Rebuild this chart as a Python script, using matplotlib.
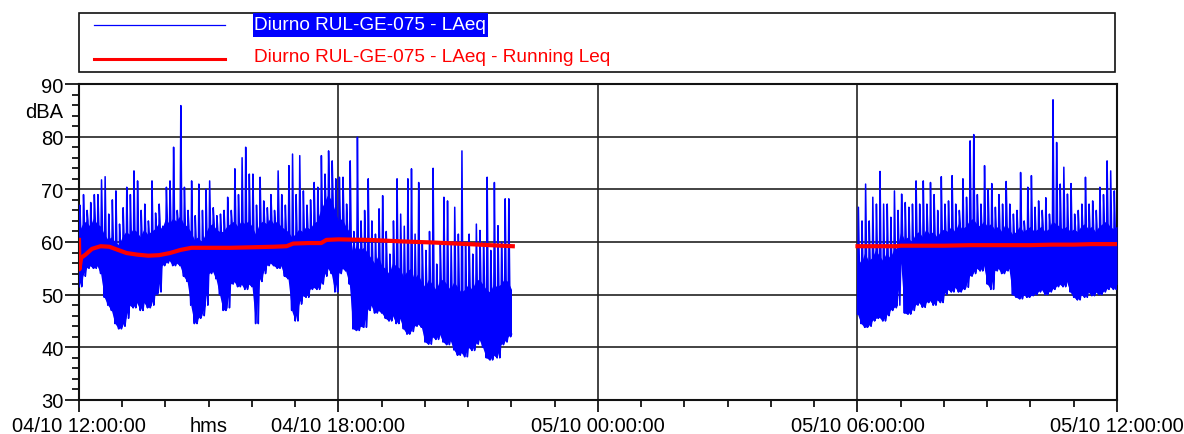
import numpy as np
import matplotlib
matplotlib.use("Agg")
import matplotlib.pyplot as plt
from matplotlib.lines import Line2D
from matplotlib.patches import Rectangle
from matplotlib.ticker import MultipleLocator

plt.rcParams['font.family'] = ['Liberation Sans', 'DejaVu Sans']

# LAeq, 5-minute envelopes (hours after 04/10 12:00)
step = 1 / 12
laeq_low_1 = [51.5, 53.5, 55.0, 55.5, 55.0, 55.5, 54.0, 49.5, 48.0, 47.0, 44.5, 43.5,
              44.0, 45.5, 48.0, 47.5, 48.5, 47.0, 48.5, 47.5, 48.0, 50.0, 50.5, 55.5,
              56.0, 56.5, 55.5, 56.0, 55.5, 53.5, 52.5, 48.0, 44.5, 45.5, 46.0, 48.0,
              54.0, 54.5, 53.0, 50.0, 47.0, 47.5, 52.0, 52.5, 51.5, 52.0, 51.0, 52.0,
              51.5, 44.5, 52.5, 54.0, 55.5, 56.0, 55.5, 55.0, 55.5, 53.5, 53.0, 47.0,
              45.0, 48.2, 49.8, 49.5, 51.0, 51.4, 51.0, 52.0, 53.5, 55.0, 54.0, 50.5,
              54.0, 55.0, 54.5, 52.0, 43.5, 43.2, 44.0, 43.8, 47.0, 48.0, 46.5, 47.0,
              46.5, 45.5, 45.0, 46.0, 44.5, 45.5, 43.5, 42.5, 43.0, 44.0, 44.4, 43.8,
              41.0, 40.6, 42.0, 41.5, 42.5, 41.0, 40.5, 41.3, 39.5, 38.5, 39.0, 38.2,
              40.0, 39.4, 40.6, 41.5, 40.0, 38.0, 37.6, 38.5, 38.0, 40.5, 41.0, 42.0,
              42.5]
laeq_mid_1 = [62.0, 63.5, 64.0, 63.0, 64.5, 63.5, 63.0, 61.5, 60.5, 61.0, 60.0, 59.5,
              61.0, 62.0, 61.5, 62.5, 62.0, 61.0, 62.5, 61.5, 62.0, 62.5, 63.5, 62.5,
              64.5, 63.5, 64.5, 64.0, 65.0, 63.5, 63.0, 62.0, 60.5, 61.0, 60.0, 61.5,
              63.0, 63.5, 62.5, 62.0, 62.0, 63.0, 63.5, 64.0, 63.0, 64.0, 63.5, 64.0,
              63.0, 61.5, 63.5, 64.0, 63.5, 64.5, 63.5, 64.0, 63.0, 62.5, 62.0, 61.0,
              61.5, 62.5, 62.0, 63.0, 62.5, 63.5, 64.0, 66.0, 67.5, 69.0, 68.0, 66.0,
              64.0, 64.5, 63.0, 62.0, 58.0, 59.5, 58.5, 59.0, 58.0, 57.0, 56.0, 57.5,
              55.5, 55.0, 54.0, 56.0, 55.5, 55.0, 53.5, 54.5, 55.0, 53.0, 54.0, 52.5,
              51.5, 53.0, 52.0, 51.0, 52.5, 53.0, 52.0, 51.0, 52.5, 51.5, 50.5, 51.0,
              52.0, 51.0, 52.5, 53.0, 52.0, 51.0, 50.5, 52.0, 51.5, 52.0, 53.0, 52.5,
              51.0]
laeq_high_1 = [67.0, 69.0, 66.0, 67.5, 69.0, 69.0, 71.8, 72.4, 65.3, 68.0, 69.7, 63.4,
               66.5, 70.4, 69.0, 73.5, 71.6, 66.0, 67.2, 64.0, 71.6, 65.5, 67.2, 63.0,
               70.4, 71.6, 78.0, 66.0, 85.9, 70.4, 66.0, 71.6, 65.0, 71.0, 66.0, 70.0,
               71.6, 66.5, 65.0, 65.3, 66.0, 68.5, 66.0, 73.9, 69.0, 76.0, 78.0, 72.9,
               72.9, 67.0, 72.3, 67.8, 66.5, 69.0, 66.0, 73.5, 69.0, 67.0, 74.5, 76.7,
               69.0, 76.4, 69.7, 67.0, 68.0, 71.3, 70.4, 76.4, 72.9, 77.3, 75.4, 72.0,
               72.3, 72.3, 67.2, 75.4, 62.0, 79.9, 64.0, 66.0, 72.0, 64.0, 61.5, 66.3,
               68.8, 62.0, 57.7, 64.0, 72.0, 65.3, 63.0, 72.0, 73.9, 61.5, 71.3, 60.0,
               58.4, 62.0, 74.0, 55.8, 60.0, 68.5, 67.8, 60.0, 66.6, 61.5, 77.3, 60.0,
               61.5, 57.7, 63.4, 62.2, 60.0, 72.3, 58.4, 71.3, 63.1, 60.0, 68.2, 68.2,
               55.2]
laeq_low_2 = [46.3, 44.5, 43.8, 44.0, 45.0, 45.5, 45.7, 45.0, 46.0, 47.0, 47.5, 48.0,
              56.0, 46.5, 46.3, 47.0, 48.0, 48.5, 47.6, 48.5, 48.9, 48.0, 49.0, 48.5,
              50.0, 51.0, 50.5, 51.4, 50.5, 51.0, 51.4, 53.5, 54.0, 55.0, 54.5, 55.5,
              52.0, 51.0, 54.5, 55.0, 54.0, 54.5, 55.0, 50.0, 49.5, 49.2, 50.0, 49.5,
              49.8, 50.0, 50.5, 51.0, 50.0, 50.5, 51.0, 51.5, 52.0, 51.5, 52.5, 50.5,
              49.5, 49.0, 50.0, 49.5, 50.5, 49.8, 50.5, 50.0, 50.5, 51.0, 51.5, 51.0,
              52.0]
laeq_mid_2 = [57.0, 56.0, 58.0, 56.5, 57.0, 58.5, 57.5, 56.5, 58.0, 57.0, 58.5, 59.0,
              62.0, 60.5, 61.0, 60.0, 61.5, 62.0, 61.0, 62.5, 61.5, 62.0, 61.0, 62.0,
              62.5, 62.0, 63.0, 62.0, 63.5, 62.5, 63.0, 64.0, 64.5, 63.5, 63.0, 64.0,
              63.0, 63.5, 62.5, 63.0, 62.0, 63.5, 62.5, 61.5, 62.0, 63.0, 62.0, 62.5,
              63.0, 62.0, 62.5, 63.0, 62.0, 62.5, 64.0, 63.5, 63.0, 62.5, 63.0, 62.0,
              62.5, 62.0, 63.0, 63.5, 62.5, 63.0, 62.0, 63.0, 63.5, 64.0, 63.0, 62.5,
              63.0]
laeq_high_2 = [66.6, 64.0, 71.0, 64.0, 68.5, 67.2, 73.4, 67.2, 67.2, 64.7, 69.7, 66.0,
               69.1, 67.5, 66.6, 67.2, 71.6, 67.2, 71.6, 67.2, 71.3, 69.0, 66.0, 72.4,
               67.2, 67.8, 72.6, 67.2, 66.0, 72.0, 68.5, 79.2, 80.4, 69.0, 67.2, 74.5,
               70.0, 71.1, 66.6, 69.0, 67.2, 71.5, 67.2, 65.3, 66.0, 73.2, 64.0, 70.4,
               72.6, 66.6, 67.8, 66.0, 68.4, 65.3, 87.0, 78.9, 71.0, 74.2, 69.1, 71.1,
               65.3, 66.0, 67.2, 72.3, 67.2, 67.8, 66.0, 70.4, 69.0, 75.4, 73.5, 69.7,
               68.5]
start_1, start_2 = 0.0, 18.0

# running Leq
leq_t_1 = [0.0, 0.01, 0.05, 0.15, 0.3, 0.5, 0.7, 0.9, 1.1, 1.35, 1.6, 1.85, 2.1, 2.35, 2.6,
           3.0, 3.5, 4.0, 4.5, 4.8, 4.95, 5.3, 5.6, 5.72, 6.0, 6.7, 7.5, 8.2, 9.0, 9.5, 10.03]
leq_v_1 = [60.4, 54.8, 57.0, 57.6, 58.7, 59.2, 59.1, 58.5, 57.9, 57.6, 57.4, 57.5, 57.9, 58.5, 58.9,
           58.9, 58.9, 59.0, 59.1, 59.2, 59.7, 59.8, 59.8, 60.4, 60.5, 60.4, 60.1, 59.9, 59.6, 59.4, 59.2]
leq_t_2 = [18.0, 18.9, 19.0, 20.0, 20.6, 21.0, 22.0, 22.5, 23.0, 23.4, 24.0]
leq_v_2 = [59.2, 59.2, 59.3, 59.3, 59.4, 59.4, 59.4, 59.5, 59.5, 59.6, 59.6]

tick_hours = [0, 6, 12, 18, 24]
tick_labels = ['04/10 12:00:00', '04/10 18:00:00', '05/10 00:00:00',
               '05/10 06:00:00', '05/10 12:00:00']
label_1 = 'Diurno RUL-GE-075 - LAeq'
label_2 = 'Diurno RUL-GE-075 - LAeq - Running Leq'

BLUE = '#0000ff'
RED = '#ff0000'

fig = plt.figure(figsize=(11.84, 4.35), dpi=100)
ax = fig.add_axes([79 / 1184, 1 - 401 / 435, 1038 / 1184, 316 / 435])


def draw_laeq(start, low, mid, high):
    low, mid, high = np.array(low), np.array(mid), np.array(high)
    t = start + step * np.arange(len(low))
    # dense part of the trace
    ax.fill_between(t, low, mid, color=BLUE, lw=0, zorder=3)
    # each 5-minute block: low -> peak -> dense top -> low
    x = np.column_stack([t, t + step / 4, t + step / 2, t + 3 * step / 4]).ravel()[:-3]
    y = np.column_stack([low, high, mid, low]).ravel()[:-3]
    ax.plot(x, y, color=BLUE, lw=1.1, zorder=3)


draw_laeq(start_1, laeq_low_1, laeq_mid_1, laeq_high_1)
draw_laeq(start_2, laeq_low_2, laeq_mid_2, laeq_high_2)
ax.plot(leq_t_1, leq_v_1, color=RED, lw=3.0, zorder=4)
ax.plot(leq_t_2, leq_v_2, color=RED, lw=3.0, zorder=4)

ax.set_xlim(0, 24)
ax.set_ylim(30, 90)
ax.set_xticks(tick_hours)
ax.set_xticklabels(tick_labels)
ax.xaxis.set_minor_locator(MultipleLocator(1))
ax.set_yticks(range(30, 91, 10))
ax.yaxis.set_minor_locator(MultipleLocator(2))
ax.tick_params(axis='x', which='major', length=8.6, width=1.2, pad=3, labelsize=14.5)
ax.tick_params(axis='x', which='minor', length=5, width=1.2)
ax.tick_params(axis='y', which='major', length=10, width=1.2, pad=1, labelsize=14.5)
ax.tick_params(axis='y', which='minor', length=5, width=1.2)
ax.grid(True, which='major', color='#222222', lw=1.2, zorder=1)
for sp in ax.spines.values():
    sp.set_linewidth(1.5)
    sp.set_color('#111111')

ax.annotate('hms', xy=(3, 30), xycoords='data', xytext=(0, -11.2), textcoords='offset points',
            ha='center', va='top', fontsize=14.5)
fig.text(63 / 1184, 1 - 112 / 435, 'dBA', ha='right', va='center', fontsize=14.5)

# legend box
fig.add_artist(Rectangle((79 / 1184, 1 - 73 / 435), 1036 / 1184, 59 / 435,
                         transform=fig.transFigure, fill=False, ec='#111111', lw=1.2))
fig.add_artist(Line2D([94 / 1184, 225 / 1184], [1 - 26 / 435] * 2,
                      transform=fig.transFigure, color=BLUE, lw=0.9))
fig.add_artist(Line2D([94 / 1184, 225 / 1184], [1 - 60 / 435] * 2,
                      transform=fig.transFigure, color=RED, lw=2.2))
fig.add_artist(Rectangle((253 / 1184, 1 - 38 / 435), 235 / 1184, 24 / 435,
                         transform=fig.transFigure, color=BLUE, lw=0))
fig.text(254 / 1184, 1 - 26 / 435, label_1, color='white', ha='left', va='center', fontsize=13.7)
fig.text(254 / 1184, 1 - 57 / 435, label_2, color=RED, ha='left', va='center', fontsize=13.7)

fig.savefig('out.png', dpi=100)
